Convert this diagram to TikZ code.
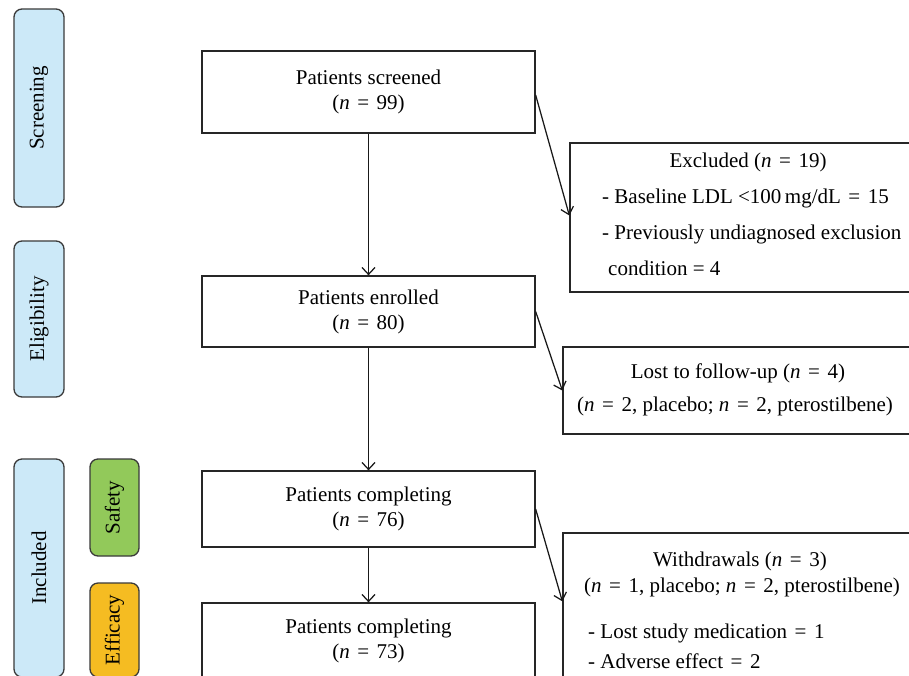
\documentclass[tikz,border=0pt]{standalone}
\usepackage{fontspec}
\setmainfont{Liberation Serif}
\usetikzlibrary{arrows.meta,calc}
\definecolor{lblue}{HTML}{CCE9F8}
\definecolor{lgreen}{HTML}{92C95A}
\definecolor{lorange}{HTML}{F5BC22}
\definecolor{edge}{HTML}{3A3A3A}
\newcommand{\myeq}{\hspace{0.36em}=\hspace{0.36em}}
\begin{document}
\begin{tikzpicture}[x=1pt,y=-1pt,
  every node/.style={font=\fontsize{21}{25}\selectfont},
  sidebox/.style={draw=edge,line width=1.3pt,rounded corners=8pt,rotate=90,inner sep=0pt},
  mainbox/.style={draw=black!85,line width=1.3pt,minimum width=333pt,align=center,inner sep=0pt},
  rbox/.style={draw=black!85,line width=1.3pt,inner sep=0pt},
  txt/.style={inner sep=0pt},
  flow/.style={draw=black!90,line width=1.25pt,-{Straight Barb[length=7pt,width=13pt]}}]
\useasboundingbox (0,0) rectangle (909,675);
\clip (0,0) rectangle (909,675);
\fill[white] (0,0) rectangle (909,675);

% side boxes
\node[sidebox,fill=lblue,minimum width=198pt,minimum height=50pt] (sScr) at (39,108) {Screening};
\node[sidebox,fill=lblue,minimum width=156pt,minimum height=50pt] (sElig) at (39,319) {Eligibility};
\node[sidebox,fill=lblue,minimum width=218pt,minimum height=50pt] (sInc) at (39,568) {Included};
\node[sidebox,fill=lgreen,minimum width=97pt,minimum height=49pt] (sSaf) at (114.5,507.5) {Safety};
\node[sidebox,fill=lorange,minimum width=94pt,minimum height=49pt] (sEff) at (114.5,630) {Efficacy};

% main boxes
\node[mainbox,minimum height=82pt] (scr) at (368.5,92) {Patients screened\\(\textit{n}\myeq 99)};
\node[mainbox,minimum height=71pt] (enr) at (368.5,311.5) {Patients enrolled\\(\textit{n}\myeq 80)};
\node[mainbox,minimum height=76pt] (c1) at (368.5,509) {Patients completing\\(\textit{n}\myeq 76)};
\node[mainbox,minimum height=76pt] (c2) at (368.5,641) {Patients completing\\(\textit{n}\myeq 73)};

% right boxes
\node[rbox,minimum width=355pt,minimum height=149pt] (exc) at (747.5,217.5) {};
\node[txt] (excT) at (748,162) {Excluded (\textit{n}\myeq 19)};
\node[txt,anchor=west] (exc1) at (602,198) {- Baseline LDL <100\,mg/dL\myeq 15};
\node[txt,anchor=west] (exc2) at (602,234) {- Previously undiagnosed exclusion};
\node[txt,anchor=west] (exc3) at (608,268) {condition = 4};

\node[rbox,minimum width=362pt,minimum height=87pt] (lost) at (744,390.5) {};
\node[txt] (lostT) at (738,373) {Lost to follow-up (\textit{n}\myeq 4)};
\node[txt] (lost1) at (735,406) {(\textit{n}\myeq 2, placebo; \textit{n}\myeq 2, pterostilbene)};

\node[rbox,minimum width=362pt,minimum height=167pt] (wd) at (744,616.5) {};
\node[txt] (wdT) at (740,561) {Withdrawals (\textit{n}\myeq 3)};
\node[txt] (wd1) at (742,587) {(\textit{n}\myeq 1, placebo; \textit{n}\myeq 2, pterostilbene)};
\node[txt,anchor=west] (wd2) at (588,633) {- Lost study medication\myeq 1};
\node[txt,anchor=west] (wd3) at (588,661) {- Adverse effect\myeq 2};

% connectors
\draw[flow] (scr.south) -- (enr.north);
\draw[flow] (enr.south) -- (c1.north);
\draw[flow] (c1.south) -- (c2.north);
\draw[flow] ($(scr.east)+(0,3)$) -- ($(exc.west)+(0,-2)$);
\draw[flow] (enr.east) -- (lost.west);
\draw[flow] (c1.east) -- ($(wd.north west)+(0,69)$);
\end{tikzpicture}
\end{document}
